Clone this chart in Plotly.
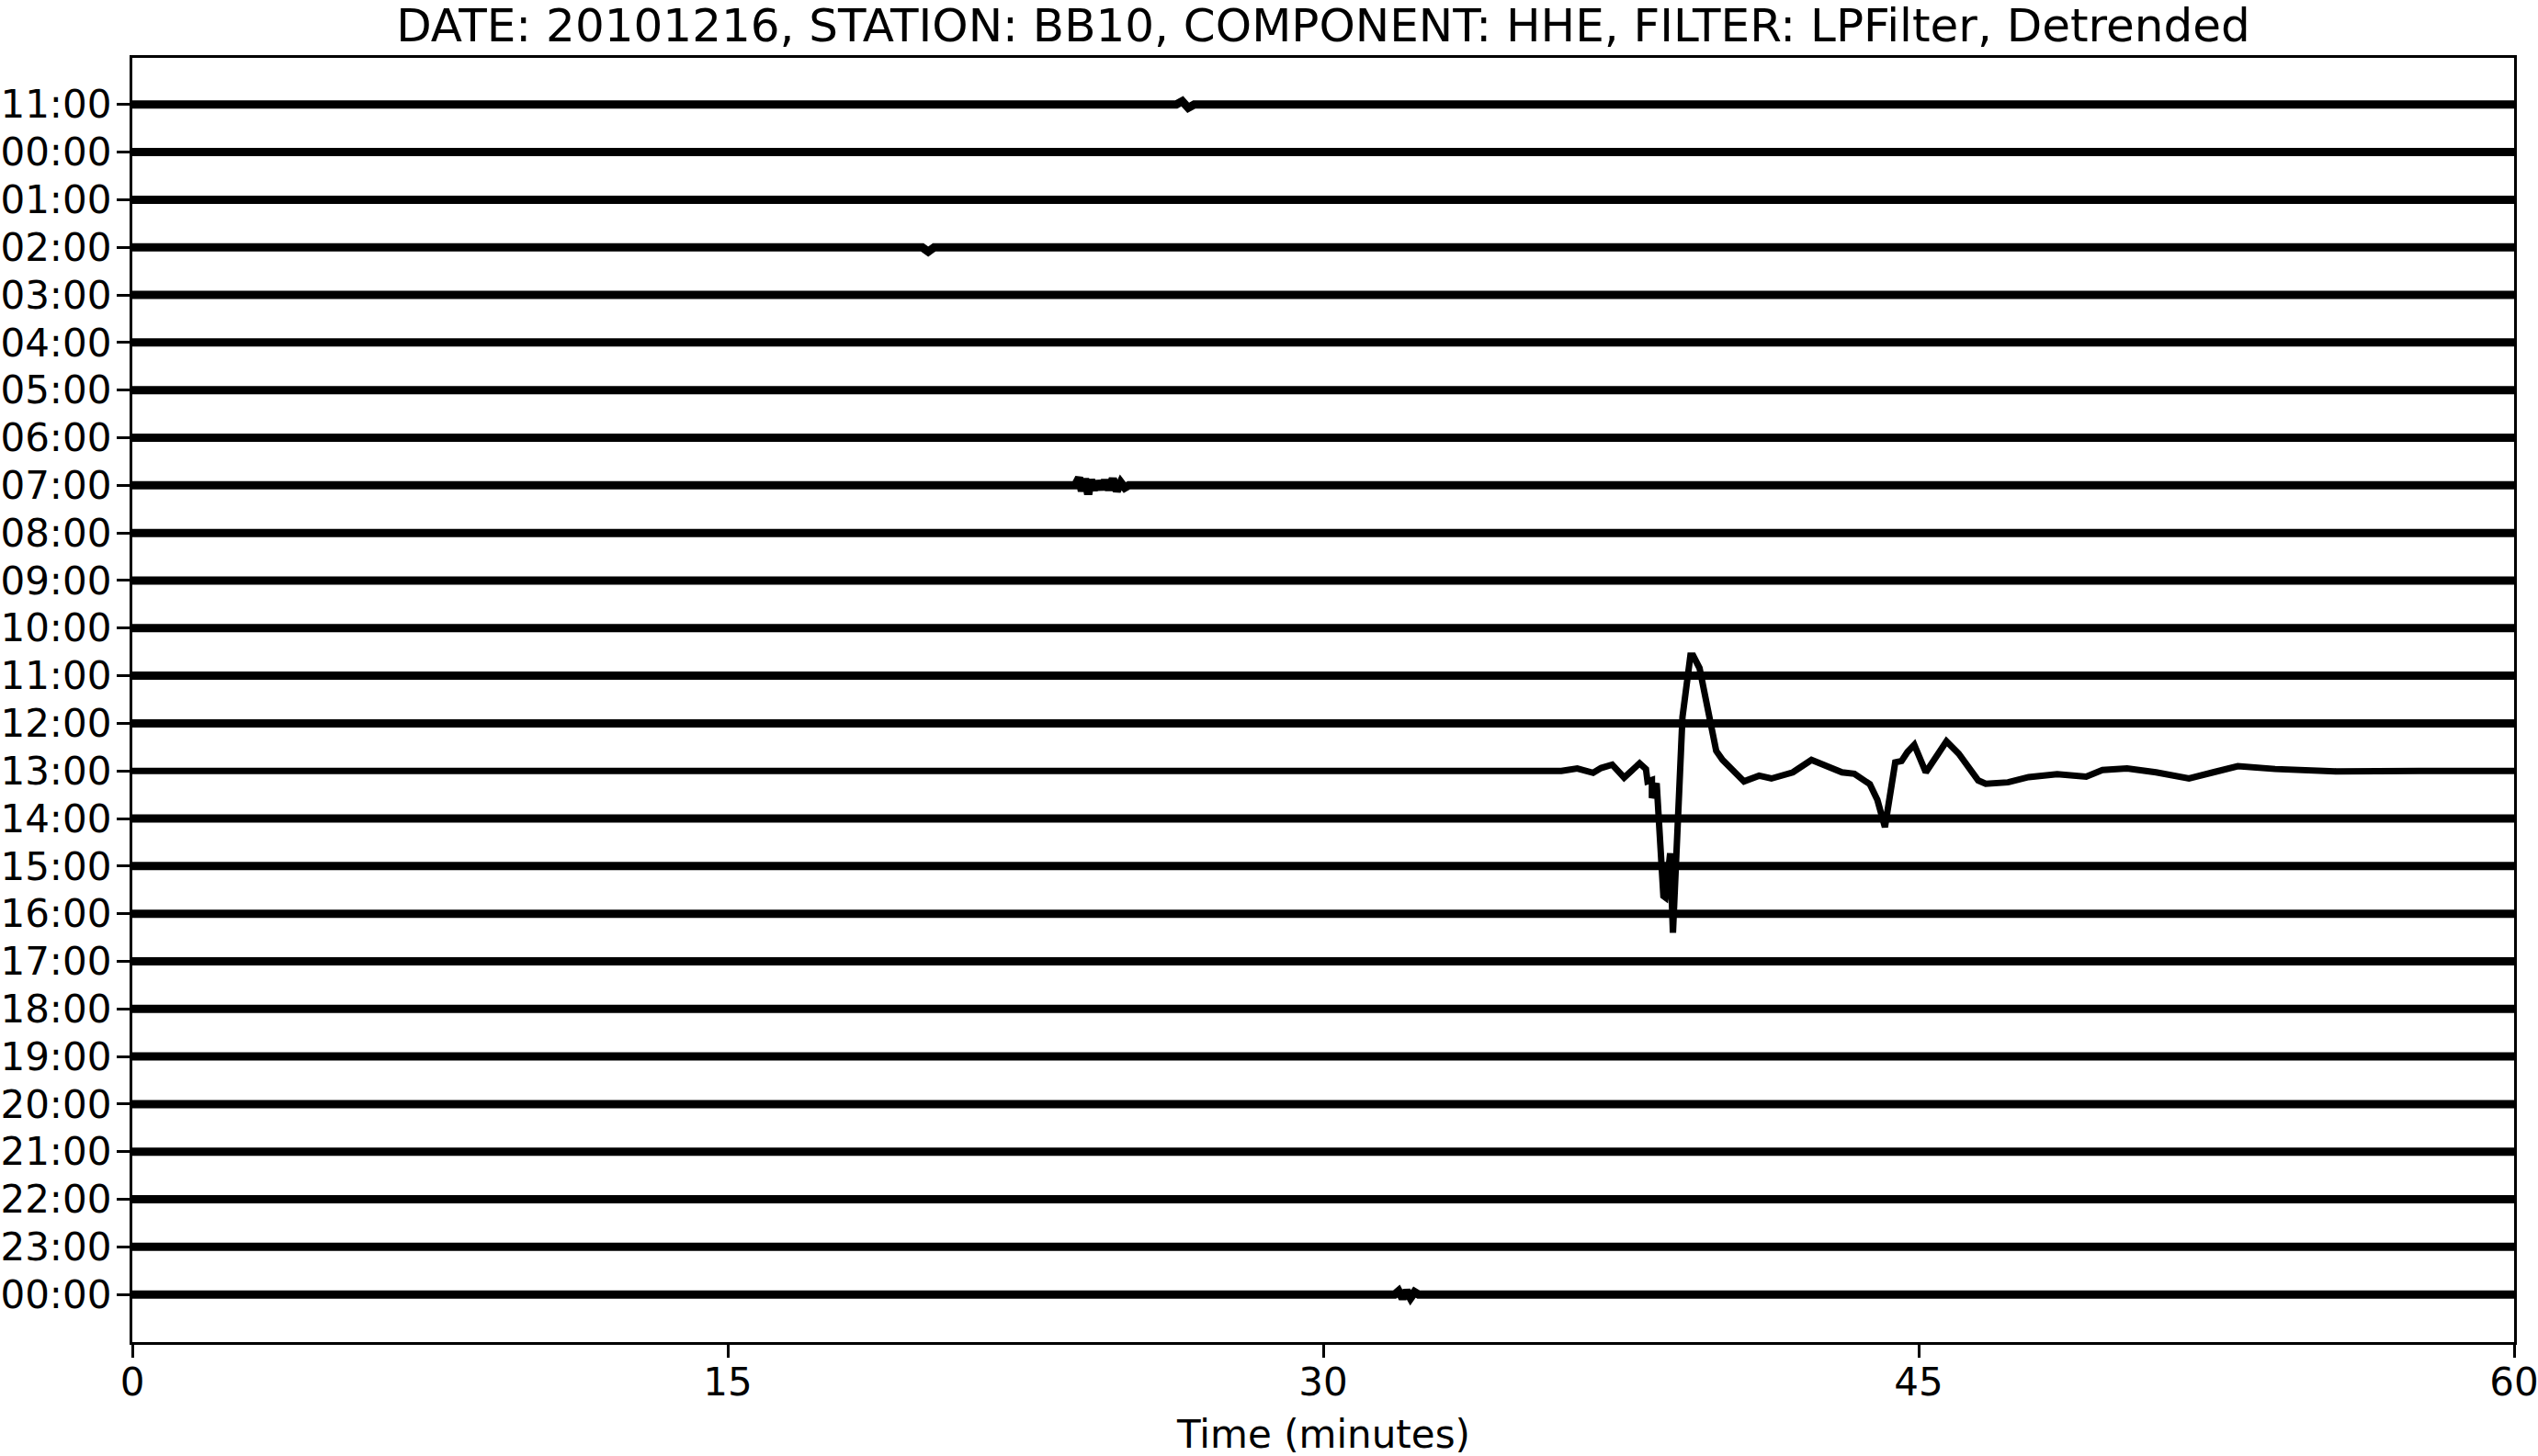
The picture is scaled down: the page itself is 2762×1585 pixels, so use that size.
import plotly.graph_objects as go

# ---- data ----
row_labels = ["11:00", "00:00", "01:00", "02:00", "03:00", "04:00", "05:00", "06:00",
              "07:00", "08:00", "09:00", "10:00", "11:00", "12:00", "13:00", "14:00",
              "15:00", "16:00", "17:00", "18:00", "19:00", "20:00", "21:00", "22:00",
              "23:00", "00:00"]
x_ticks = [0, 15, 30, 45, 60]

# quiet rows: start / end minute, amplitude ~0 (normalised trace units)
quiet_min = [0, 60]
quiet_amp = [0, 0]

# 13:00 row (index 14): large event
ev13_min = [0, 36.0, 36.4, 36.8, 37.0, 37.28, 37.58, 37.97, 38.13, 38.17, 38.28, 38.28,
            38.40, 38.57, 38.62, 38.74, 38.81, 39.05, 39.25, 39.32, 39.48, 39.71, 39.90,
            40.06, 40.29, 40.60, 40.98, 41.29, 41.83, 42.30, 43.07, 43.38, 43.77, 43.96,
            44.15, 44.41, 44.57, 44.72, 44.89, 45.18, 45.70, 46.01, 46.50, 46.69, 47.25,
            47.77, 48.49, 49.22, 49.63, 50.25, 50.98, 51.81, 52.42, 53.04, 53.98, 55.52,
            57.60, 60]
ev13_amp = [0, 0, 0.05, -0.04, 0.06, 0.13, -0.14, 0.16, 0.04, -0.22, -0.19, -0.57,
            -0.26, -2.63, -2.66, -1.73, -3.40, 1.13, 2.42, 2.42, 2.16, 1.13, 0.42,
            0.23, 0.04, -0.22, -0.10, -0.16, -0.03, 0.23, -0.03, -0.06, -0.28, -0.61,
            -1.18, 0.18, 0.21, 0.40, 0.55, -0.03, 0.62, 0.36, -0.20, -0.27, -0.24,
            -0.13, -0.07, -0.12, 0.02, 0.05, -0.03, -0.16, -0.03, 0.10, 0.04, -0.01,
            0, 0]

# 07:00 row (index 8): small local burst
b07_min = [0, 23.75, 23.85, 23.92, 24.0, 24.08, 24.15, 24.22, 24.3, 24.4, 24.5,
           24.6, 24.7, 24.8, 24.9, 25.0, 25.1, 60]
b07_amp = [0, 0, 0.16, -0.12, 0.14, -0.19, 0.12, -0.10, 0.08, -0.08, 0.10,
           -0.09, 0.14, -0.12, 0.06, -0.05, 0, 0]

# last 00:00 row (index 25): faint burst
b00_min = [0, 31.8, 31.9, 32.0, 32.1, 32.2, 32.3, 32.4, 60]
b00_amp = [0, 0, 0.07, -0.08, 0.08, -0.07, 0.05, 0, 0]

# first 11:00 row (index 0): single blip
b11_min = [0, 26.3, 26.45, 26.6, 26.75, 60]
b11_amp = [0, 0, 0.07, -0.07, 0, 0]

# 02:00 row (index 3): single dip
b02_min = [0, 19.9, 20.05, 20.2, 60]
b02_amp = [0, 0, -0.09, 0, 0]

special_rows = {14: (ev13_min, ev13_amp), 8: (b07_min, b07_amp),
                25: (b00_min, b00_amp), 0: (b11_min, b11_amp), 3: (b02_min, b02_amp)}

title_text = "DATE: 20101216, STATION: BB10, COMPONENT: HHE, FILTER: LPFilter, Detrended"
x_title = "Time (minutes)"

# ---- figure ----
FONT = "DejaVu Sans"
W, H = 2762, 1585
fig = go.Figure()
for i, lab in enumerate(row_labels):
    xs, amps = special_rows.get(i, (quiet_min, quiet_amp))
    fig.add_trace(go.Scatter(
        x=xs, y=[a - i for a in amps], mode="lines",
        line=dict(color="black", width=9 if i != 14 else 7),
        showlegend=False, hoverinfo="skip"))

fig.update_layout(
    width=W, height=H,
    margin=dict(l=144, r=26, t=63, b=124),
    paper_bgcolor="white", plot_bgcolor="white",
    font=dict(family=FONT, size=42, color="black"),
    title=dict(text=title_text, x=0.5, xref="paper", xanchor="center",
               y=1 - 45 / H, yref="container", yanchor="bottom",
               automargin=False,
               font=dict(family=FONT, size=50, color="black")),
    annotations=[dict(text=x_title, xref="paper", yref="paper", x=0.5, y=0,
                      xanchor="center", yanchor="middle", yshift=-100,
                      showarrow=False, font=dict(family=FONT, size=42, color="black"))],
)
fig.update_xaxes(
    range=[0, 60], tickvals=x_ticks, ticktext=[str(v) for v in x_ticks],
    showgrid=False, zeroline=False, automargin=False,
    showline=True, mirror=True, linecolor="black", linewidth=3.3,
    ticks="outside", ticklen=14, tickwidth=3.3, tickcolor="black",
    ticklabelstandoff=-10, ticklabeloverflow="allow",
)
fig.update_yaxes(
    range=[-26.0, 0.98], tickvals=[-i for i in range(len(row_labels))],
    ticktext=row_labels,
    showgrid=False, zeroline=False, automargin=False,
    showline=True, mirror=True, linecolor="black", linewidth=3.3,
    ticks="outside", ticklen=14, tickwidth=3.3, tickcolor="black",
    ticklabelstandoff=-3, ticklabeloverflow="allow",
)
fig.write_html(
    "out.html",
    config={"displayModeBar": False},
    post_script="document.body.style.margin='0';document.body.style.overflow='hidden';",
)
